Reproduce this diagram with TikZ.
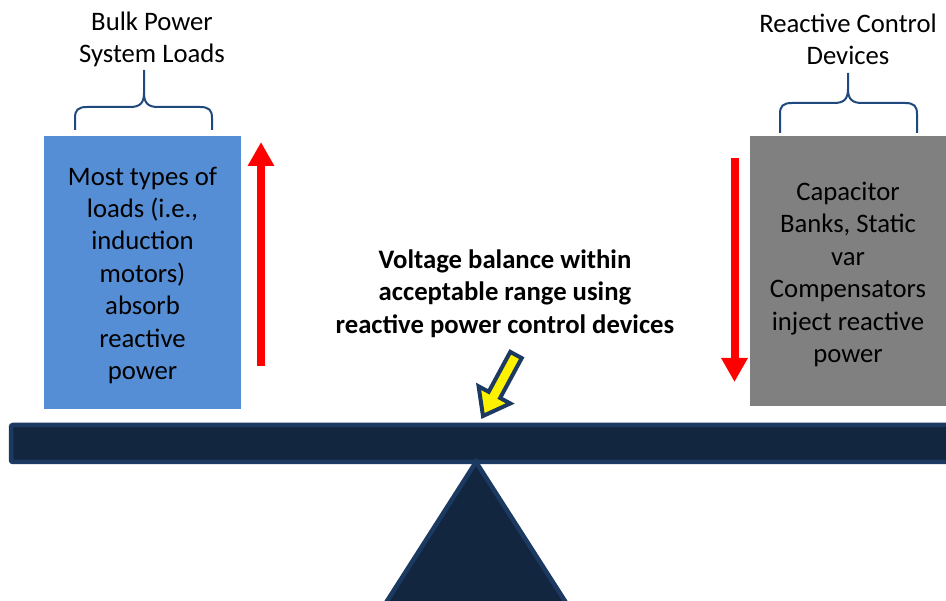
\documentclass[tikz,border=0pt]{standalone}
\usepackage{fontspec}
\setmainfont{Carlito}
\usetikzlibrary{arrows.meta,calc}

\definecolor{loadblue}{RGB}{85,142,213}
\definecolor{devgray}{RGB}{128,128,128}
\definecolor{beamfill}{RGB}{18,38,64}
\definecolor{beamline}{RGB}{27,57,97}
\definecolor{bracecol}{RGB}{31,73,125}

\tikzset{
  lbl/.style={align=center,font=\fontsize{26.7}{32.5}\selectfont,inner sep=0pt},
  bracket/.style={draw=bracecol,line width=2pt},
  redarrow/.style={draw=red,line width=8pt,-{Triangle[width=25pt,length=24pt]}},
  navy/.style={fill=beamfill,draw=beamline,line width=4.5pt}
}

\begin{document}
\begin{tikzpicture}[x=1pt,y=-1pt]
    \useasboundingbox (0,0) rectangle (946,601);
    \clip (0,0) rectangle (946,601);

    % boxes
    \fill [loadblue] (44,136) rectangle (241,409);
    \fill [devgray] (750,136) rectangle (946,406);
    \node [lbl] (loads) at (142.5,275.5)
      {Most types of\\loads (i.e.,\\induction\\motors)\\absorb\\reactive\\power};
    \node [lbl] (devices) at (848,274.5)
      {Capacitor\\Banks, Static\\var\\Compensators\\inject reactive\\power};

    % labels
    \node [lbl] (bulk) at (152,39.5) {Bulk Power\\System Loads};
    \node [lbl] (rcd) at (848,39.5) {Reactive Control\\Devices};
    \node [lbl,font=\fontsize{26.7}{32.5}\selectfont\bfseries] (balance) at (505,293.5)
      {Voltage balance within\\acceptable range using\\reactive power control devices};

    % braces
    \draw [bracket] (75,130) -- (75,118) .. controls (75,110) and (78,107) .. (87,107)
      -- (130,107) .. controls (140,107) and (144,103) .. (144,93) -- (144,70);
    \draw [bracket] (144,93) .. controls (144,103) and (148,107) .. (158,107)
      -- (200,107) .. controls (209,107) and (212,110) .. (212,118) -- (212,130);
    \draw [bracket] (780,133) -- (780,114) .. controls (780,106) and (783,103) .. (792,103)
      -- (834,103) .. controls (844,103) and (848,99) .. (848,89) -- (848,73);
    \draw [bracket] (848,89) .. controls (848,99) and (852,103) .. (862,103)
      -- (905,103) .. controls (914,103) and (917,106) .. (917,114) -- (917,133);

    % red arrows
    \coordinate (up0) at (261,366);
    \coordinate (up1) at (261,142);
    \coordinate (dn0) at (734.5,158);
    \coordinate (dn1) at (734.5,382);
    \draw [redarrow] (up0) -- (up1);
    \draw [redarrow] (dn0) -- (dn1);

    % seesaw
    \draw [navy,rounded corners=2pt] (11,425) rectangle (960,462);
    \draw [navy] (476,462) -- (380,612) -- (572,612) -- cycle;

    % yellow arrow
    \coordinate (tip) at (483,416);
    \coordinate (tail) at (516,355);
    \coordinate (hb) at ($(tip)!24pt!(tail)$);
    \coordinate (h1) at ($(hb)!18pt!90:(tip)$);
    \coordinate (h2) at ($(hb)!18pt!-90:(tip)$);
    \coordinate (s1) at ($(hb)!6.5pt!90:(tip)$);
    \coordinate (s2) at ($(hb)!6.5pt!-90:(tip)$);
    \coordinate (t1) at ($(tail)!6.5pt!90:(tip)$);
    \coordinate (t2) at ($(tail)!6.5pt!-90:(tip)$);
    \draw [fill=yellow,draw=beamline,line width=4pt,line join=miter]
      (tip) -- (h1) -- (s1) -- (t1) -- (t2) -- (s2) -- (h2) -- cycle;
\end{tikzpicture}
\end{document}
